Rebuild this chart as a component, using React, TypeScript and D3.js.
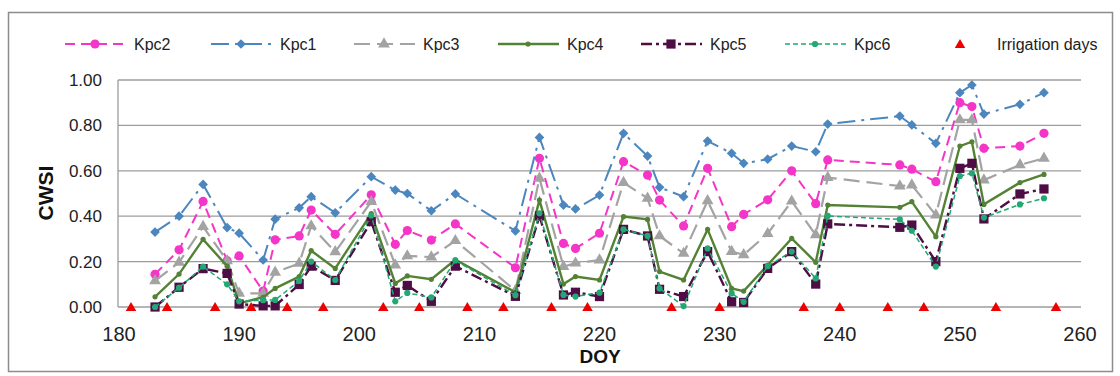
import React from "react";
import * as d3 from "d3";

const days = [183, 185, 187, 189, 190, 192, 193, 195, 196, 198, 201, 203, 204, 206, 208, 213, 215, 217, 218, 220, 222, 224, 225, 227, 229, 231, 232, 234, 236, 238, 239, 245, 246, 248, 250, 251, 252, 255, 257];

const kpc1 = [0.33, 0.4, 0.54, 0.35, 0.325, 0.207, 0.387, 0.437, 0.486, 0.415, 0.574, 0.515, 0.5, 0.424, 0.498, 0.335, 0.747, 0.449, 0.432, 0.493, 0.765, 0.665, 0.527, 0.486, 0.731, 0.677, 0.633, 0.651, 0.709, 0.684, 0.806, 0.841, 0.802, 0.721, 0.944, 0.978, 0.85, 0.893, 0.944];
const kpc2 = [0.144, 0.252, 0.465, 0.204, 0.225, 0.07, 0.296, 0.313, 0.427, 0.32, 0.494, 0.276, 0.337, 0.295, 0.366, 0.173, 0.655, 0.28, 0.258, 0.325, 0.64, 0.581, 0.471, 0.357, 0.611, 0.354, 0.408, 0.472, 0.6, 0.455, 0.648, 0.626, 0.607, 0.552, 0.9, 0.883, 0.699, 0.709, 0.765];
const kpc3 = [0.115, 0.197, 0.354, 0.203, 0.06, 0.06, 0.153, 0.192, 0.357, 0.243, 0.464, 0.185, 0.225, 0.22, 0.292, 0.072, 0.567, 0.178, 0.193, 0.207, 0.548, 0.479, 0.313, 0.236, 0.468, 0.244, 0.23, 0.323, 0.466, 0.318, 0.57, 0.533, 0.537, 0.405, 0.824, 0.824, 0.559, 0.626, 0.655];
const kpc4 = [0.045, 0.145, 0.298, 0.18, 0.016, 0.043, 0.082, 0.134, 0.248, 0.17, 0.411, 0.104, 0.137, 0.122, 0.208, 0.065, 0.471, 0.101, 0.134, 0.119, 0.398, 0.386, 0.156, 0.119, 0.342, 0.082, 0.07, 0.185, 0.302, 0.197, 0.449, 0.439, 0.464, 0.31, 0.709, 0.728, 0.452, 0.548, 0.584];
const kpc5 = [0.0, 0.087, 0.169, 0.148, 0.013, 0.005, 0.005, 0.099, 0.18, 0.117, 0.376, 0.065, 0.095, 0.025, 0.18, 0.047, 0.401, 0.053, 0.065, 0.046, 0.342, 0.313, 0.078, 0.046, 0.244, 0.023, 0.02, 0.17, 0.244, 0.101, 0.366, 0.351, 0.361, 0.2, 0.611, 0.633, 0.388, 0.498, 0.52];
const kpc6 = [0.0, 0.085, 0.178, 0.1, 0.025, 0.03, 0.031, 0.115, 0.2, 0.119, 0.403, 0.025, 0.062, 0.042, 0.205, 0.052, 0.413, 0.053, 0.046, 0.063, 0.342, 0.313, 0.082, 0.004, 0.258, 0.06, 0.023, 0.18, 0.244, 0.126, 0.401, 0.386, 0.336, 0.178, 0.577, 0.589, 0.394, 0.452, 0.479];

const irrigationDays = [181, 184, 188, 191, 194, 197, 202, 205, 209, 212, 216, 219, 226, 230, 237, 240, 244, 247, 253, 258];

const xTicks = [180, 190, 200, 210, 220, 230, 240, 250, 260];
const yTicks = [0, 0.2, 0.4, 0.6, 0.8, 1.0];

const FONT = "'Liberation Sans', Arial, sans-serif";

// line style + marker for each series
const series = [
  { name: "Kpc2", values: kpc2, color: "#F535C8", dash: "10,6", width: 2, marker: "circle", size: 4.6, legendX: 65 },
  { name: "Kpc1", values: kpc1, color: "#4C86BE", dash: "18,6,3,6", width: 2, marker: "diamond", size: 60, legendX: 211 },
  { name: "Kpc3", values: kpc3, color: "#A3A3A3", dash: "16,7", width: 2.2, marker: "triangle", size: 60, legendX: 354 },
  { name: "Kpc4", values: kpc4, color: "#548235", dash: null, width: 2.4, marker: "circle", size: 2.6, legendX: 498 },
  { name: "Kpc5", values: kpc5, color: "#4E0D45", dash: "11,4,3,4", width: 2.4, marker: "square", size: 85, legendX: 641 },
  { name: "Kpc6", values: kpc6, color: "#22A872", dash: "5,3", width: 1.5, marker: "circle", size: 3.1, legendX: 785 },
];

const x = d3.scaleLinear().domain([180, 260]).range([119, 1080]);
const y = d3.scaleLinear().domain([0, 1]).range([307, 80]);

function Marker({ type, size, color, cx, cy }) {
  if (type === "circle") return <circle cx={cx} cy={cy} r={size} fill={color} />;
  const sym = type === "diamond" ? d3.symbolDiamond2 : type === "triangle" ? d3.symbolTriangle : d3.symbolSquare;
  return <path d={d3.symbol(sym, size)()} transform={`translate(${cx},${cy})`} fill={color} />;
}

export default function App() {
  const line = d3.line<number>().x((_, i) => x(days[i])).y(v => y(v));
  const redTri = d3.symbol(d3.symbolTriangle, 48)();

  return (
    <svg width={1120} height={376} style={{ position: "absolute", left: 0, top: 0, background: "#fff" }} fontFamily={FONT}>
      <rect x={8.5} y={12.5} width={1104} height={359} fill="#fff" stroke="#8c8c8c" strokeWidth={1.5} />

      {/* grid */}
      {yTicks.map(t => (
        <g key={t}>
          <line x1={118} x2={1081} y1={y(t)} y2={y(t)} stroke="#9c9c9c" strokeWidth={1.3} />
          <text x={102} y={y(t)} dy="0.35em" textAnchor="end" fontSize={17} fill="#222">{t.toFixed(2)}</text>
        </g>
      ))}
      <line x1={118} x2={118} y1={y(1)} y2={y(0)} stroke="#9c9c9c" strokeWidth={1.3} />

      {xTicks.map(t => (
        <text key={t} x={x(t)} y={341} textAnchor="middle" fontSize={20} fill="#222">{t}</text>
      ))}
      <text x={600} y={363} textAnchor="middle" fontSize={19} fontWeight="bold" fill="#111">DOY</text>
      <text transform="translate(53,193) rotate(-90)" textAnchor="middle" fontSize={21} fontWeight="bold" fill="#111">CWSI</text>

      {/* series */}
      {series.map(s => (
        <g key={s.name}>
          <path d={line(s.values)} fill="none" stroke={s.color} strokeWidth={s.width} strokeDasharray={s.dash || undefined} />
          {s.values.map((v, i) => (
            <Marker key={i} type={s.marker} size={s.size} color={s.color} cx={x(days[i])} cy={y(v)} />
          ))}
        </g>
      ))}

      {irrigationDays.map(d => (
        <path key={d} d={redTri} transform={`translate(${x(d)},${y(0) + 1})`} fill="#EE0000" />
      ))}

      {/* legend */}
      {series.map(s => (
        <g key={s.name}>
          <line x1={s.legendX} x2={s.legendX + 61} y1={44} y2={44} stroke={s.color} strokeWidth={s.width} strokeDasharray={s.dash || undefined} />
          <Marker type={s.marker} size={s.size} color={s.color} cx={s.legendX + 30} cy={44} />
          <text x={s.legendX + 69} y={44} dy="0.35em" fontSize={16} fill="#222">{s.name}</text>
        </g>
      ))}
      <path d={redTri} transform="translate(960,45)" fill="#EE0000" />
      <text x={997} y={44} dy="0.35em" fontSize={16} fill="#222">Irrigation days</text>
    </svg>
  );
}
